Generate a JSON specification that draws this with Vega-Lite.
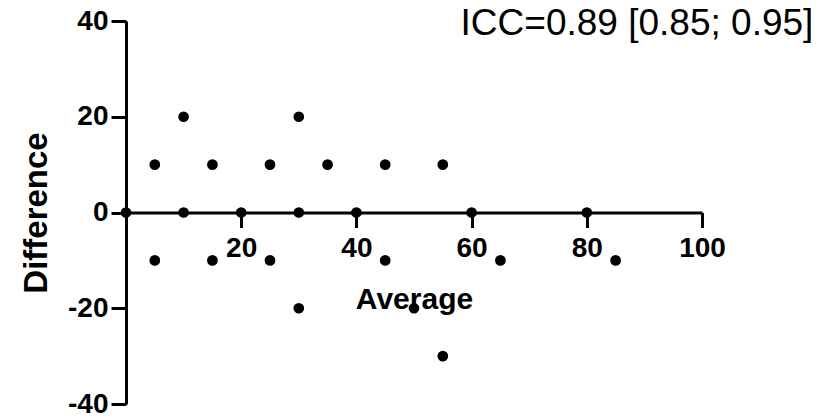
{
  "$schema": "https://vega.github.io/schema/vega-lite/v6.json",
  "autosize": {"type": "none"},
  "width": 576,
  "height": 383,
  "padding": {"left": 126, "top": 21, "right": 130, "bottom": 15},
  "background": "white",
  "title": {
    "text": "ICC=0.89 [0.85; 0.95]",
    "anchor": "end",
    "font": "Liberation Sans",
    "fontSize": 37,
    "fontWeight": "normal",
    "color": "black",
    "dx": 88,
    "dy": 40
  },
  "config": {
    "view": {"stroke": null},
    "axis": {
      "grid": false,
      "domainColor": "black",
      "domainWidth": 3,
      "tickColor": "black",
      "tickWidth": 3,
      "tickSize": 15,
      "labelFlush": false,
      "labelFont": "Liberation Sans",
      "labelFontSize": 28,
      "labelFontWeight": "bold",
      "labelColor": "black",
      "labelExpr": "'' + datum.value",
      "titleFont": "Liberation Sans",
      "titleFontWeight": "bold",
      "titleColor": "black"
    }
  },
  "data": {
    "values": [
      {"avg": 0, "diff": 0},
      {"avg": 5, "diff": 10},
      {"avg": 5, "diff": -10},
      {"avg": 10, "diff": 20},
      {"avg": 10, "diff": 0},
      {"avg": 15, "diff": 10},
      {"avg": 15, "diff": -10},
      {"avg": 20, "diff": 0},
      {"avg": 25, "diff": 10},
      {"avg": 25, "diff": -10},
      {"avg": 30, "diff": 20},
      {"avg": 30, "diff": 0},
      {"avg": 30, "diff": -20},
      {"avg": 35, "diff": 10},
      {"avg": 40, "diff": 0},
      {"avg": 45, "diff": 10},
      {"avg": 45, "diff": -10},
      {"avg": 50, "diff": -20},
      {"avg": 55, "diff": 10},
      {"avg": 55, "diff": -30},
      {"avg": 60, "diff": 0},
      {"avg": 65, "diff": -10},
      {"avg": 80, "diff": 0},
      {"avg": 85, "diff": -10}
    ]
  },
  "mark": {"type": "point", "filled": true, "color": "black", "opacity": 1, "size": 115, "shape": "circle", "clip": false},
  "encoding": {
    "x": {
      "field": "avg",
      "type": "quantitative",
      "scale": {"domain": [0, 100], "nice": false, "zero": false},
      "axis": {
        "title": "Average",
        "titleFontSize": 30,
        "values": [20, 40, 60, 80, 100],
        "offset": -191.5,
        "labelPadding": 7,
        "titlePadding": 22,
        "zindex": 0
      }
    },
    "y": {
      "field": "diff",
      "type": "quantitative",
      "scale": {"domain": [-40, 40], "nice": false, "zero": false},
      "axis": {
        "title": "Difference",
        "titleFontSize": 33,
        "values": [-40, -20, 0, 20, 40],
        "labelPadding": 3,
        "titlePadding": 14,
        "zindex": 0
      }
    }
  }
}
